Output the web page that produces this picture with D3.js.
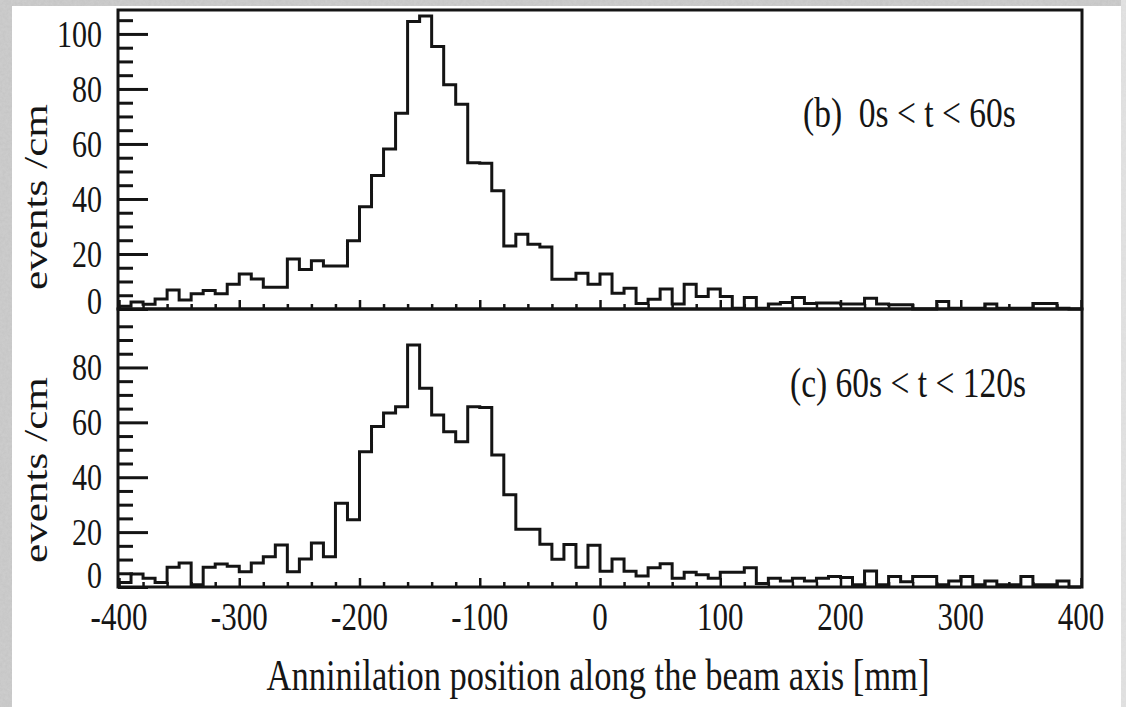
<!DOCTYPE html>
<html>
<head>
<meta charset="utf-8">
<script src="https://cdn.jsdelivr.net/npm/d3@7"></script>
<style>
  body { margin: 0; background: #fff; }
  svg { display: block; }
  text { font-family: "Liberation Serif", "Times New Roman", serif; fill: #151515; }
</style>
</head>
<body>
<div id="vis"></div>
<script>
const W = 1126, H = 707;

// x bins: 10 mm each from -400 to 400
const binStart = -400, binWidth = 10;

// (b) 0s < t < 60s, events/cm per bin
const countsB = [
  1, 2.5, 1.7, 3.6, 6.9, 3.3, 5.5, 6.7, 5.5, 9,
  12.7, 10.9, 7.9, 7.9, 18.2, 14.4, 17.5, 15.6, 15.6, 24.8,
  37.2, 48.5, 58.2, 71.2, 104.5, 106.5, 95.4, 81.5, 74.4, 53.2,
  53, 43, 22.9, 27.2, 23.5, 22.5, 10.8, 10.8, 13, 9,
  12.7, 5.7, 7.5, 2, 3.5, 7.3, 1.8, 9, 4.5, 7.3,
  4.5, 0.3, 4.2, 0.3, 1.8, 2.4, 4.2, 2, 2.2, 2.2,
  1.8, 1.8, 3.9, 1.8, 1.5, 1.5, 0, 0, 2.7, 0.3,
  0.3, 0.3, 1.8, 0.3, 0.3, 0.3, 2, 2, 0.3, 0
];

// (c) 60s < t < 120s
const countsC = [
  1.6, 4.7, 3.2, 1.6, 7.2, 8.7, 0.8, 7.2, 8.4, 7.6,
  5.6, 8.7, 11, 15.3, 5.6, 10.2, 16, 11, 30.5, 24.5,
  49.3, 58.5, 63.4, 65.7, 88.2, 72.4, 62.7, 56.6, 52.9, 65.7,
  65.4, 48.1, 33.6, 21, 21, 15.6, 10.1, 15.5, 7.2, 15.2,
  5.7, 10.2, 5.7, 4, 7, 8.5, 3.2, 5.4, 4.5, 3.2,
  5.4, 5.4, 7, 1.3, 3.2, 2.2, 3.2, 2.2, 3.2, 3.8,
  3.5, 0.8, 5.8, 0.8, 3.8, 1.9, 3.8, 3.8, 0.8, 2.2,
  3.8, 0.8, 2.2, 0.8, 0.8, 3.8, 0.8, 0.8, 2.2, 0
];

const xTicks = [-400, -300, -200, -100, 0, 100, 200, 300, 400];
const yTicksB = [0, 20, 40, 60, 80, 100];
const yTicksC = [0, 20, 40, 60, 80];
const labelB = "(b)\u00a0 0s < t < 60s";
const labelC = "(c) 60s < t < 120s";
const yTitle = "events /cm";
const xTitle = "Anninilation position along the beam axis [mm]";

const left = 118, right = 1082;
const stretch = 1.27; // glyphs in the original are taller than wide

const svg = d3.select("#vis").append("svg")
    .attr("width", W).attr("height", H);

// marbled grey border of the scan
const defs = svg.append("defs");
const f = defs.append("filter").attr("id", "marble")
    .attr("x", 0).attr("y", 0).attr("width", "100%").attr("height", "100%");
f.append("feTurbulence").attr("type", "fractalNoise")
    .attr("baseFrequency", 0.35).attr("numOctaves", 3).attr("seed", 4);
f.append("feColorMatrix").attr("type", "matrix")
    .attr("values", "0 0 0 0 0.62  0 0 0 0 0.62  0 0 0 0 0.62  0 0 0 -1.1 1.15");
svg.append("rect").attr("width", W).attr("height", H).attr("fill", "#fff");
const border = svg.append("g");
[[0, 0, 12, H], [0, 0, W, 6], [1121, 0, 5, H]].forEach(([x, y, w, h]) => {
    border.append("rect").attr("x", x).attr("y", y).attr("width", w).attr("height", h)
        .attr("fill", x > 1000 ? "#e4e4e4" : "#c4c4c4");
    border.append("rect").attr("x", x).attr("y", y).attr("width", w).attr("height", h)
        .attr("filter", "url(#marble)").attr("opacity", x > 1000 ? 0.3 : 0.9);
});

const x = d3.scaleLinear().domain([-400, 400]).range([119, 1081]);
const yB = d3.scaleLinear().domain([0, 108.7]).range([309, 10]);
const yC = d3.scaleLinear().domain([0, 101.3]).range([587, 309]);

function drawPanel(counts, y, top, bottom, majors, maxMinor, label, labelX, labelY, titleY, zeroShift) {
    const g = svg.append("g");

    // histogram outline
    const pts = [[binStart, 0]];
    counts.forEach((v, i) => pts.push([binStart + i * binWidth, v]));
    pts.push([binStart + counts.length * binWidth, counts[counts.length - 1]]);
    pts.push([binStart + counts.length * binWidth, 0]);
    g.append("path")
        .attr("d", d3.line().x(d => x(d[0])).y(d => y(d[1])).curve(d3.curveStepAfter)(pts))
        .attr("fill", "none").attr("stroke", "#141414").attr("stroke-width", 3)
        .attr("stroke-linejoin", "miter");

    // y ticks, drawn inside the frame
    const minors = d3.range(0, maxMinor + 1, 5).filter(v => v % 20 !== 0);
    g.append("g").attr("transform", `translate(${left},0)`)
        .call(d3.axisRight(y).tickValues(majors).tickSize(30).tickFormat(""))
        .call(a => a.select(".domain").remove())
        .call(a => a.selectAll("line").attr("stroke", "#141414").attr("stroke-width", 3));
    g.append("g").attr("transform", `translate(${left},0)`)
        .call(d3.axisRight(y).tickValues(minors).tickSize(15).tickFormat(""))
        .call(a => a.select(".domain").remove())
        .call(a => a.selectAll("line").attr("stroke", "#141414").attr("stroke-width", 3));

    // x ticks along the bottom edge, pointing up
    const xMinors = d3.range(-380, 400, 20).filter(v => v % 100 !== 0);
    g.append("g").attr("transform", `translate(0,${bottom})`)
        .call(d3.axisTop(x).tickValues(xTicks).tickSize(9).tickFormat(""))
        .call(a => a.select(".domain").remove())
        .call(a => a.selectAll("line").attr("stroke", "#141414").attr("stroke-width", 2.5));
    g.append("g").attr("transform", `translate(0,${bottom})`)
        .call(d3.axisTop(x).tickValues(xMinors).tickSize(5).tickFormat(""))
        .call(a => a.select(".domain").remove())
        .call(a => a.selectAll("line").attr("stroke", "#141414").attr("stroke-width", 2.5));

    // frame
    g.append("rect").attr("x", left).attr("y", top)
        .attr("width", right - left).attr("height", bottom - top)
        .attr("fill", "none").attr("stroke", "#141414").attr("stroke-width", 3);

    // y tick labels
    g.selectAll(".ylab").data(majors).join("text")
        .attr("class", "ylab")
        .attr("transform", d => `translate(102,${d === 0 ? y(d) - zeroShift : y(d)}) scale(1,${stretch})`)
        .attr("y", 10)
        .attr("text-anchor", "end")
        .style("font-size", "30px")
        .text(d => d);

    // panel label
    g.append("text")
        .attr("transform", `translate(${labelX},${labelY}) scale(1,${stretch})`)
        .style("font-size", "33.5px")
        .text(label);

    // y title
    g.append("text")
        .attr("transform", `translate(47,${titleY}) scale(1,${stretch}) rotate(-90)`)
        .attr("text-anchor", "middle")
        .style("font-size", "34px")
        .text(yTitle);
}

drawPanel(countsB, yB, 10, 309, yTicksB, 105, labelB, 803, 127, 197, 8);
drawPanel(countsC, yC, 309, 587, yTicksC, 100, labelC, 790, 397, 470, 12);

// x tick labels
svg.selectAll(".xlab").data(xTicks).join("text")
    .attr("class", "xlab")
    .attr("transform", d => `translate(${x(d)},630) scale(1,${stretch})`)
    .attr("text-anchor", "middle")
    .style("font-size", "31px")
    .text(d => d);

svg.append("text")
    .attr("transform", `translate(598,690) scale(1,${stretch})`)
    .attr("text-anchor", "middle")
    .style("font-size", "34.5px")
    .text(xTitle);
</script>
</body>
</html>
